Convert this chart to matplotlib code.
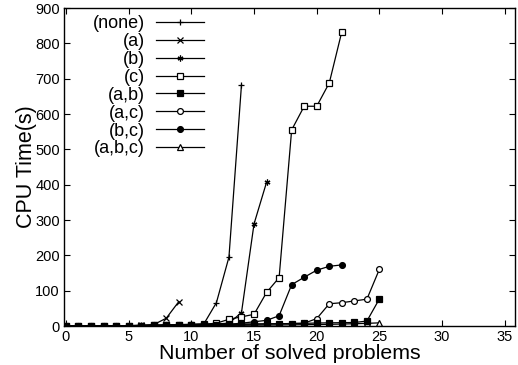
import numpy as np
import matplotlib
matplotlib.use("Agg")
import matplotlib.pyplot as plt

plt.rcParams['font.family'] = ['Liberation Sans', 'DejaVu Sans']

# CPU time per number of solved problems
x_none = list(range(0, 15))
y_none = [0.1, 0.2, 0.3, 0.5, 0.8, 1, 1.5, 2, 3, 4, 5, 6, 66, 195, 683]

x_a = list(range(0, 10))
y_a = [0.1, 0.2, 0.3, 0.5, 0.8, 1.2, 2, 4, 22, 69]

x_b = list(range(0, 17))
y_b = [0.1, 0.2, 0.3, 0.5, 0.7, 1, 1.3, 1.7, 2.2, 3, 4, 5, 6, 8, 38, 289, 407]

x_c = list(range(0, 23))
y_c = [0.1, 0.2, 0.3, 0.5, 0.7, 1, 1.3, 1.7, 2.2, 3, 4, 5, 8, 19, 26, 33, 95, 137,
       555, 622, 622, 688, 833]

x_ab = list(range(0, 26))
y_ab = [0.1, 0.2, 0.3, 0.5, 0.7, 1, 1.3, 1.6, 2, 2.5, 3, 3.5, 4, 4.5, 5, 5.5, 6, 6.5,
        7, 7.5, 8.5, 9, 9.5, 10, 14, 77]

x_ac = list(range(0, 26))
y_ac = [0.1, 0.2, 0.3, 0.5, 0.7, 1, 1.3, 1.6, 2, 2.5, 3, 3.5, 4, 4.5, 5, 5.5, 6, 6.5,
        7, 8, 21, 63, 66, 71, 76, 161]

x_bc = list(range(0, 23))
y_bc = [0.1, 0.2, 0.3, 0.5, 0.7, 1, 1.3, 1.6, 2, 2.5, 3, 3.5, 4, 5, 8, 12, 16, 29,
        117, 138, 158, 169, 173]

x_abc = list(range(0, 26))
y_abc = [0.1, 0.2, 0.3, 0.4, 0.5, 0.6, 0.7, 0.8, 0.9, 1, 1.2, 1.4, 1.6, 1.8, 2, 2.3,
         2.6, 3, 3.4, 3.8, 4.2, 4.8, 5.5, 6.5, 7.5, 9]

fig = plt.figure(figsize=(5.18, 3.65), dpi=100)
ax = fig.add_axes([0.1236, 0.1068, 0.8704, 0.8712])

kw = dict(color='black', lw=0.9, ms=4.2, mew=0.9)
ax.plot(x_none, y_none, marker='+', label='(none)', **kw)
ax.plot(x_a, y_a, marker='x', label='(a)', **kw)
ax.plot(x_b, y_b, marker=(6, 2, 0), label='(b)', **kw)
ax.plot(x_c, y_c, marker='s', mfc='white', label='(c)', **kw)
# filled squares sit on top along the bottom, like in the original
ax.plot(x_ab, y_ab, marker='s', label='(a,b)', zorder=3, **kw)
ax.plot(x_ac, y_ac, marker='o', mfc='white', label='(a,c)', **kw)
ax.plot(x_bc, y_bc, marker='o', label='(b,c)', **kw)
ax.plot(x_abc, y_abc, marker='^', mfc='white', label='(a,b,c)', **kw)

ax.set_xlim(-0.15, 35.8)
ax.set_ylim(0, 900)
ax.set_xticks(range(0, 36, 5))
ax.set_yticks(range(0, 901, 100))
ax.tick_params(direction='in', top=True, right=True, labelsize=10.5, length=4, pad=3)
for s in ax.spines.values():
    s.set_linewidth(1.0)

ax.set_xlabel('Number of solved problems', fontsize=15.4, labelpad=0)
ax.set_ylabel('CPU Time(s)', fontsize=15.5, labelpad=-1)

ax.legend(loc='upper right', bbox_to_anchor=(0.343, 1.023), frameon=False,
          markerfirst=False, fontsize=13, handlelength=2.65,
          labelspacing=0.05, handletextpad=0.65, borderpad=0.3)

fig.savefig('out.png', dpi=100)
